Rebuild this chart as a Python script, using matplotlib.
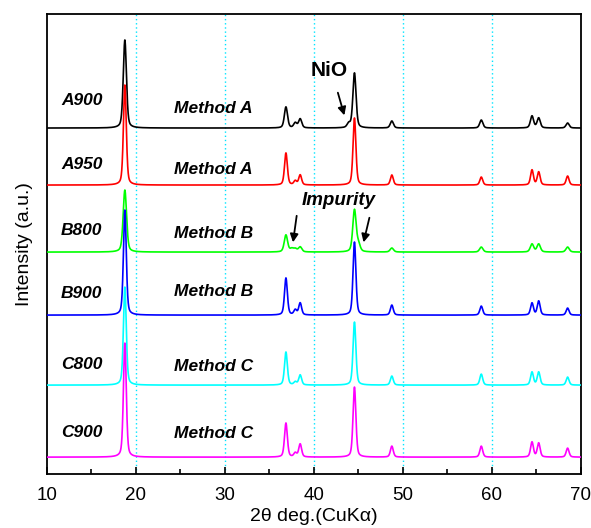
import numpy as np
import matplotlib
matplotlib.use("Agg")
import matplotlib.pyplot as plt
from matplotlib.ticker import MultipleLocator

plt.rcParams['font.family'] = ['Liberation Sans', 'DejaVu Sans']

# ---- data ----
samples = ["A900", "A950", "B800", "B900", "C800", "C900"]
methods = ["Method A", "Method A", "Method B", "Method B", "Method C", "Method C"]
colors = ["#000000", "#ff0000", "#00ff00", "#0000ff", "#00ffff", "#ff00ff"]
offsets = [346, 289, 222, 159, 89, 17]

peak_pos = [18.75, 36.85, 37.9, 38.45, 44.55, 48.75, 58.8, 64.5, 65.25, 68.5]
h_A900 = [88, 21, 5, 9, 55, 7, 8, 12, 10, 5]
h_A950 = [100, 32, 4, 10, 67, 10, 8, 15, 13, 9]
h_B800 = [62, 17, 3, 5, 42, 4, 5, 8, 8, 5]
h_B900 = [105, 37, 5, 12, 73, 10, 9, 12, 14, 7]
h_C800 = [98, 33, 3, 10, 63, 9, 11, 13, 13, 8]
h_C900 = [114, 34, 4, 13, 70, 11, 11, 15, 14, 9]
heights = [h_A900, h_A950, h_B800, h_B900, h_C800, h_C900]
fwhm = [0.42, 0.38, 0.45, 0.38, 0.38, 0.38]

# extra features (NiO shoulder on A900, impurity on B800)
extra_A900_pos = [43.9]
extra_A900_h = [4]
extra_B800_pos = [37.5, 45.0]
extra_B800_h = [3, 7]

x_ticks = [10, 20, 30, 40, 50, 60, 70]
grid_x = [20, 30, 40, 50, 60]


def pattern(x, pos, h, w):
    y = np.zeros_like(x)
    for p, a in zip(pos, h):
        g = np.exp(-4 * np.log(2) * ((x - p) / w) ** 2)
        lo = 1.0 / (1 + 4 * ((x - p) / w) ** 2)
        y += a * (0.6 * g + 0.4 * lo)
    return y


fig = plt.figure(figsize=(5.91, 5.28), dpi=100)
ax = fig.add_axes([0.0795, 0.102, 0.9035, 0.8715])

for gx in grid_x:
    ax.axvline(gx, color="#00e5ff", lw=1.0, ls=(0, (1, 2)), zorder=0)

x = np.arange(10, 70.001, 0.01)
for i, s in enumerate(samples):
    pos = list(peak_pos)
    h = list(heights[i])
    if s == "A900":
        pos += extra_A900_pos
        h += extra_A900_h
    if s == "B800":
        pos += extra_B800_pos
        h += extra_B800_h
    y = offsets[i] + pattern(x, pos, h, fwhm[i])
    ax.plot(x, y, color=colors[i], lw=1.2, zorder=2 + i)

# labels
label_y = [374, 310, 244, 181, 110, 42]
method_y = [366, 305, 241, 183, 108, 41]
for i in range(6):
    ax.text(13.9, label_y[i], samples[i], fontsize=12.5, fontweight="bold",
            fontstyle="italic", ha="center", va="center")
    ax.text(28.7, method_y[i], methods[i], fontsize=12.5, fontweight="bold",
            fontstyle="italic", ha="center", va="center")

ax.text(41.7, 404, "NiO", fontsize=15, fontweight="bold", ha="center", va="center")
ax.annotate("", xy=(43.5, 356), xytext=(42.6, 384),
            arrowprops=dict(arrowstyle="-|>", color="black", lw=1.3,
                            mutation_scale=12))
ax.text(42.8, 274, "Impurity", fontsize=13.5, fontweight="bold",
        fontstyle="italic", ha="center", va="center")
ax.annotate("", xy=(37.6, 229), xytext=(38.1, 261),
            arrowprops=dict(arrowstyle="-|>", color="black", lw=1.3,
                            mutation_scale=12))
ax.annotate("", xy=(45.5, 229), xytext=(46.3, 259),
            arrowprops=dict(arrowstyle="-|>", color="black", lw=1.3,
                            mutation_scale=12))

ax.set_xlim(10, 70)
ax.set_ylim(0, 460)
ax.set_xticks(x_ticks)
ax.xaxis.set_minor_locator(MultipleLocator(5))
ax.set_yticks([])
ax.tick_params(axis="x", which="major", direction="in", length=5, width=1.2,
               labelsize=13.5, pad=9)
ax.tick_params(axis="x", which="minor", direction="in", length=3.5, width=1.2)
for sp in ax.spines.values():
    sp.set_linewidth(1.3)

ax.set_xlabel("2θ deg.(CuKα)", fontsize=14, labelpad=3)
ax.set_ylabel("Intensity (a.u.)", fontsize=14, labelpad=10)

fig.savefig("out.png", dpi=100)
